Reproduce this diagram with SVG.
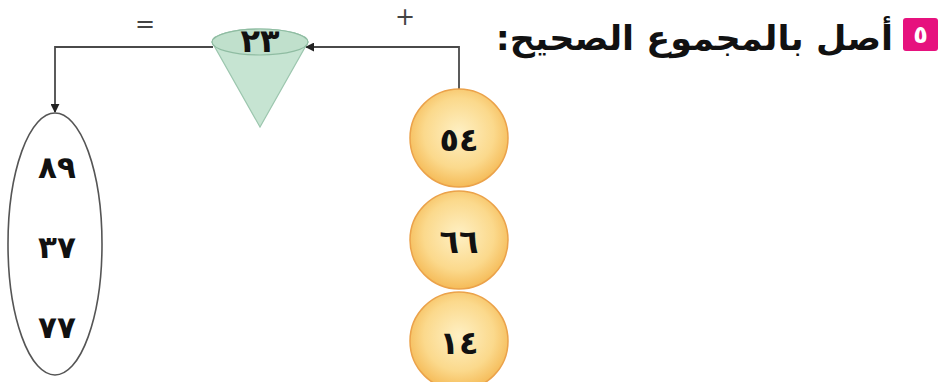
<svg xmlns="http://www.w3.org/2000/svg" width="947" height="382" viewBox="0 0 947 382">
<style>
.num{font-family:"DejaVu Sans",sans-serif;font-weight:bold;fill:#111;text-anchor:middle;dominant-baseline:central}
.conn{fill:none;stroke:#4a4a4a;stroke-width:1.8}
.ball{fill:url(#ballGrad);stroke:#eba24a;stroke-width:1.5}
.op{font-family:"DejaVu Sans",sans-serif;fill:#444;font-size:24px;text-anchor:middle}
</style>
<defs>
<radialGradient id="ballGrad" cx="50%" cy="45%" r="55%">
<stop offset="0" stop-color="#fef0c4"/>
<stop offset="0.65" stop-color="#fbd98c"/>
<stop offset="1" stop-color="#f5bb58"/>
</radialGradient>
<marker id="arr" viewBox="0 0 10 10" refX="9" refY="5" markerWidth="9" markerHeight="9" markerUnits="userSpaceOnUse" orient="auto">
<path d="M0,0 L10,5 L0,10 Z" fill="#222"/>
</marker>
</defs>
<rect width="947" height="382" fill="#fff"/>

<g id="title">
<rect x="903" y="18" width="35" height="33" rx="3" fill="#e6127e"/>
<text x="920.5" y="34.5" class="num" style="fill:#fff;font-size:24px">٥</text>
<text transform="translate(893,50) scale(1.03,1)" x="0" y="0" direction="rtl" text-anchor="start" style="font-family:'DejaVu Sans',sans-serif;font-weight:bold;font-size:34px;fill:#111">أصل بالمجموع الصحيح:</text>
</g>

<g id="connectors">
<path class="conn" d="M459,90 V47 H306" marker-end="url(#arr)"/>
<path class="conn" d="M213,47 H55 V112" marker-end="url(#arr)"/>
<text class="op" x="145" y="32">=</text>
<text class="op" x="405" y="25">+</text>
</g>

<g id="cone">
<path d="M212,42 A48,13 0 0 1 308,42 L260,127 Z" fill="#c6e4d2" stroke="#9cc6ae" stroke-width="1.2"/>
<ellipse cx="260" cy="42" rx="48" ry="13" fill="#c0e0cc" stroke="#8fbca2" stroke-width="1.2"/>
<text x="260" y="41" class="num" style="font-size:32px">٢٣</text>
</g>

<g id="results">
<ellipse cx="55" cy="244" rx="47" ry="131" fill="none" stroke="#555" stroke-width="1.6"/>
<text x="57" y="167" class="num" style="font-size:31px">٨٩</text>
<text x="57" y="247" class="num" style="font-size:31px">٣٧</text>
<text x="57" y="327" class="num" style="font-size:31px">٧٧</text>
</g>

<g id="ball1">
<circle cx="459" cy="138" r="49" class="ball"/>
<text x="459" y="140" class="num" style="font-size:32px">٥٤</text>
</g>
<g id="ball2">
<circle cx="459" cy="240" r="49" class="ball"/>
<text x="459" y="242" class="num" style="font-size:32px">٦٦</text>
</g>
<g id="ball3">
<circle cx="459" cy="341" r="49" class="ball"/>
<text x="459" y="343" class="num" style="font-size:32px">١٤</text>
</g>
</svg>
